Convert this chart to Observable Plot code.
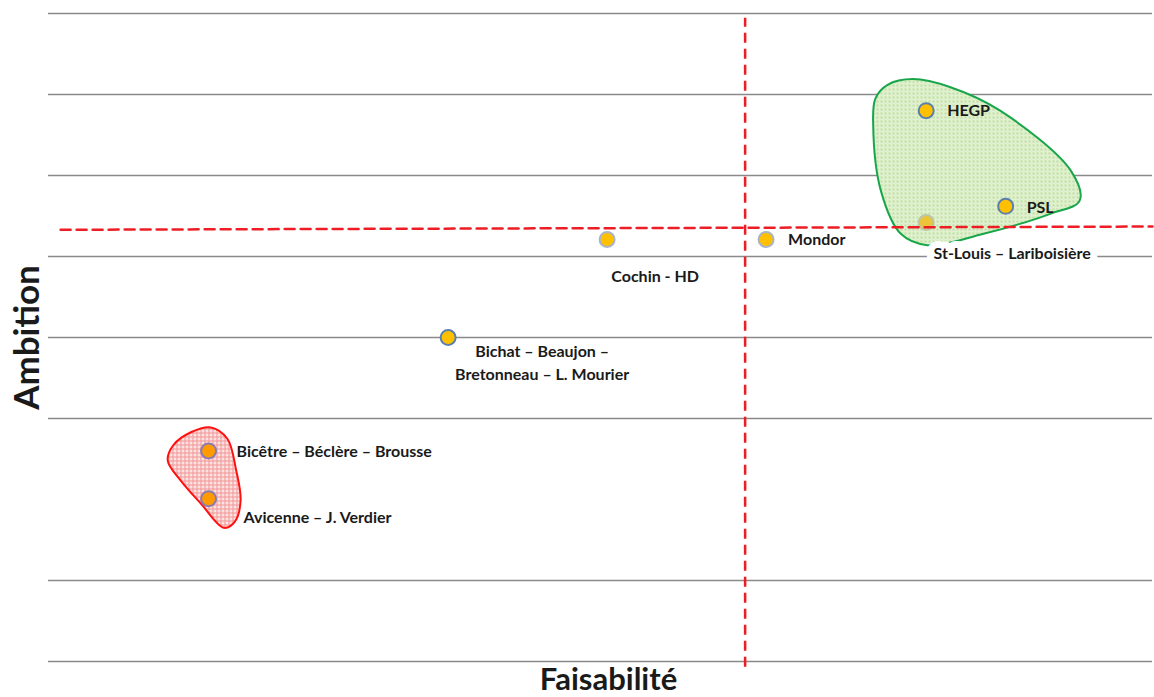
<!DOCTYPE html>
<html>
<head>
<meta charset="utf-8">
<script src="https://cdn.jsdelivr.net/npm/d3@7"></script>
<script src="https://cdn.jsdelivr.net/npm/@observablehq/plot@0.6"></script>
<style>
  html, body { margin: 0; padding: 0; background: #fff; }
  #chart svg { display: block; }
</style>
</head>
<body>
<div id="chart"></div>
<script>
// ---- Data ----
const sites = ["HEGP", "PSL", "St-Louis – Lariboisière", "Mondor", "Cochin - HD",
               "Bichat – Beaujon –\nBretonneau – L. Mourier",
               "Bicêtre – Béclère – Brousse", "Avicenne – J. Verdier"];
const faisabilite = [7.95, 8.67, 7.95, 6.50, 5.06, 3.62, 1.45, 1.45];
const ambition    = [6.80, 5.62, 5.42, 5.21, 5.21, 4.00, 2.60, 2.01];

const gridLevels = [0, 1, 3, 4, 5, 6, 7, 8];

const feasThreshold = [6.31];
const feasThresholdSpan = [-0.07, 7.94];
const ambThresholdX = [0.11, 10];
const ambThresholdY = [5.33, 5.37];

// group outlines (data units)
const greenBlobX = [7.47, 7.54, 7.72, 7.96, 8.47, 9.08, 9.34, 9.26, 8.62, 8.17, 7.83, 7.60, 7.49];
const greenBlobY = [6.62, 5.81, 5.28, 5.14, 5.28, 5.53, 5.69, 6.06, 6.80, 7.09, 7.19, 7.12, 6.95];
const redBlobX = [1.47, 1.62, 1.70, 1.74, 1.69, 1.59, 1.38, 1.20, 1.08, 1.13, 1.29];
const redBlobY = [2.89, 2.75, 2.36, 1.99, 1.73, 1.65, 1.95, 2.23, 2.48, 2.67, 2.83];

const xLabel = "Faisabilité";
const yLabel = "Ambition";

// ---- Build tables ----
const points = sites.map((s, i) => ({site: s, x: faisabilite[i], y: ambition[i], i}));
const greenBlob = greenBlobX.map((x, i) => ({x, y: greenBlobY[i]}));
const redBlob = redBlobX.map((x, i) => ({x, y: redBlobY[i]}));
const ambLine = ambThresholdX.map((x, i) => ({x, y: ambThresholdY[i]}));

function patterns() {
  const defs = d3.create("svg:defs");
  const g = defs.append("pattern").attr("id", "pGreen").attr("patternUnits", "userSpaceOnUse")
    .attr("width", 4).attr("height", 4);
  g.append("rect").attr("width", 4).attr("height", 4).attr("fill", "#e0f0d0");
  g.append("rect").attr("width", 2).attr("height", 2).attr("fill", "#bfe0a0");
  const r = defs.append("pattern").attr("id", "pRed").attr("patternUnits", "userSpaceOnUse")
    .attr("width", 4).attr("height", 4);
  r.append("rect").attr("width", 4).attr("height", 4).attr("fill", "#fde2e2");
  r.append("path").attr("d", "M0,0.5H4M0.5,0V4").attr("stroke", "#f29494").attr("stroke-width", 1);
  return defs.node();
}

const font = "Lato, 'Open Sans', sans-serif";
const labelStyle = {fontFamily: font, fontWeight: "bold", fontSize: 16, fill: "#1a1a1a"};

const layout = [
  {i: 0, dx: 21, dy: -2, anchor: "start"},
  {i: 1, dx: 21, dy: -1, anchor: "start"},
  {i: 2, dx: 86, dy: 29, anchor: "middle", halo: true},
  {i: 3, dx: 22, dy: -2, anchor: "start"},
  {i: 4, dx: 48, dy: 35, anchor: "middle"},
  {i: 5, dx: 94, dy: 24, anchor: "middle"},
  {i: 6, dx: 28, dy: -1, anchor: "start"},
  {i: 7, dx: 35, dy: 17, anchor: "start"}
];

const labelMarks = layout.map(l => Plot.text(points.filter(d => d.i === l.i), {
  x: "x", y: "y", text: "site", dx: l.dx, dy: l.dy,
  textAnchor: l.anchor,
  lineHeight: 1.42,
  ...labelStyle,
  ...(l.halo ? {stroke: "white", strokeWidth: 14, strokeLinejoin: "round"} : {})
}));

const dotBase = {x: "x", y: "y", r: 7.5, strokeWidth: 2};

const chart = Plot.plot({
  width: 1154,
  height: 697,
  marginLeft: 48,
  marginRight: 2,
  marginTop: 13,
  marginBottom: 36,
  x: {domain: [0, 10], axis: null},
  y: {domain: [0, 8], axis: null},
  style: {background: "white", overflow: "visible"},
  marks: [
    patterns,
    Plot.ruleY(gridLevels, {stroke: "#8a8a8a", strokeWidth: 1.3}),
    Plot.line(greenBlob, {x: "x", y: "y", curve: "catmull-rom-closed",
      fill: "url(#pGreen)", stroke: "#19a64a", strokeWidth: 2}),
    Plot.line(redBlob, {x: "x", y: "y", curve: "catmull-rom-closed",
      fill: "url(#pRed)", stroke: "#ff1010", strokeWidth: 2}),
    // faded point inside the green group
    Plot.dot(points.filter(d => d.i === 2), {...dotBase, fill: "#ecc43a", stroke: "#b9c7a8"}),
    Plot.ruleX(feasThreshold, {y1: feasThresholdSpan[0], y2: feasThresholdSpan[1],
      stroke: "#ee1c25", strokeWidth: 2.5, strokeDasharray: "10,6"}),
    Plot.line(ambLine, {x: "x", y: "y", stroke: "#ee1c25", strokeWidth: 2.5, strokeDasharray: "10,6"}),
    Plot.dot(points.filter(d => [0, 1, 5].includes(d.i)), {...dotBase, fill: "#FFC000", stroke: "#5b80ad"}),
    Plot.dot(points.filter(d => [3, 4].includes(d.i)), {...dotBase, fill: "#FFC000", stroke: "#a9b4c8"}),
    Plot.dot(points.filter(d => [6, 7].includes(d.i)), {...dotBase, fill: "#FF9A00", stroke: "#8a7cae"}),
    ...labelMarks,
    Plot.text([yLabel], {text: d => d, frameAnchor: "left", textAnchor: "middle", dx: -21, rotate: -90,
      fontFamily: font, fontWeight: "bold", fontSize: 35, fill: "#1a1a1a"}),
    Plot.text([xLabel], {text: d => d, frameAnchor: "bottom", textAnchor: "middle", dx: 8, dy: 28,
      fontFamily: font, fontWeight: "bold", fontSize: 31, fill: "#1a1a1a"})
  ]
});

document.getElementById("chart").appendChild(chart);
</script>
</body>
</html>
